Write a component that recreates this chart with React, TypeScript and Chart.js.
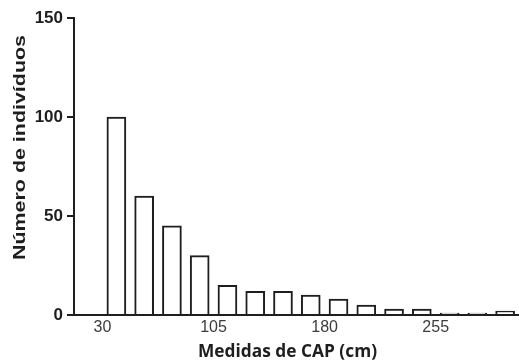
import { useEffect, useRef } from "react";
import { Chart, registerables } from "chart.js";

Chart.register(...registerables);

// Histogram of trunk circumference (CAP) classes
const binStarts = [30, 48.75, 67.5, 86.25, 105, 123.75, 142.5, 161.25, 180, 198.75, 217.5, 236.25, 255, 273.75, 292.5];
const binWidth = 18.75;
const counts = [100, 60, 45, 30, 15, 12, 12, 10, 8, 5, 3, 3, 1, 1, 2];
const xTicks = [30, 105, 180, 255];
const yTicks = [0, 50, 100, 150];
const xTitle = "Medidas de CAP (cm)";
const yTitle = "Número de indivíduos";

const INK = "#1e1e1e";

const axisTitles = {
  id: "axisTitles",
  afterDraw(chart: any) {
    const { ctx, chartArea } = chart;
    ctx.save();
    ctx.fillStyle = INK;
    ctx.textAlign = "center";
    ctx.textBaseline = "alphabetic";

    // x title
    ctx.font = "bold 17px 'Open Sans'";
    const xw = ctx.measureText(xTitle).width;
    ctx.save();
    ctx.translate(287.5, chartArea.bottom + 42);
    ctx.scale(179 / xw, 1);
    ctx.fillText(xTitle, 0, 0);
    ctx.restore();

    // y title, rotated and stretched along its length
    ctx.font = "bold 16px 'Liberation Sans'";
    const yw = ctx.measureText(yTitle).width;
    ctx.translate(24.5, 147.5);
    ctx.rotate(-Math.PI / 2);
    ctx.scale(225 / yw, 1);
    ctx.fillText(yTitle, 0, 0);
    ctx.restore();
  },
};

export default function App() {
  const canvasRef = useRef<HTMLCanvasElement | null>(null);

  useEffect(() => {
    const canvas = canvasRef.current;
    if (!canvas) return;
    const chart = new Chart(canvas, {
      type: "bar",
      data: {
        datasets: [
          {
            data: binStarts.map((s, i) => ({ x: s + binWidth / 2, y: counts[i] })),
            backgroundColor: "#ffffff",
            borderColor: INK,
            borderWidth: 2,
            barThickness: 19,
          },
        ],
      },
      options: {
        responsive: false,
        animation: false,
        events: [],
        layout: { padding: { top: 18, left: 0, right: 0, bottom: 0 } },
        plugins: { legend: { display: false }, tooltip: { enabled: false } },
        scales: {
          x: {
            type: "linear",
            offset: false,
            min: 10.75,
            max: 311.25,
            afterBuildTicks: (s: any) => {
              s.ticks = xTicks.map((v) => ({ value: v }));
            },
            afterFit: (s: any) => {
              s.height = 48;
            },
            ticks: {
              autoSkip: false,
              maxRotation: 0,
              padding: 3,
              color: "#3c3c3c",
              font: { family: "'Liberation Sans'", size: 16 },
              callback: (v: any) => String(v),
            },
            grid: { display: false, drawTicks: false },
            border: { display: true, color: INK, width: 2 },
          },
          y: {
            type: "linear",
            min: 0,
            max: 150,
            afterBuildTicks: (s: any) => {
              s.ticks = yTicks.map((v) => ({ value: v }));
            },
            afterFit: (s: any) => {
              s.width = 74;
            },
            ticks: {
              padding: 4,
              color: INK,
              font: { family: "'Liberation Sans'", size: 17, weight: "bold" },
              callback: (v: any) => String(v),
            },
            grid: {
              display: true,
              drawOnChartArea: false,
              drawTicks: true,
              tickLength: 7,
              color: INK,
              lineWidth: 2,
            },
            border: { display: true, color: INK, width: 2 },
          },
        },
      },
      plugins: [axisTitles],
    });
    return () => chart.destroy();
  }, []);

  return (
    <div style={{ position: "fixed", left: 0, top: 0, width: 519, height: 363, background: "#fff" }}>
      <canvas ref={canvasRef} width={519} height={363} />
    </div>
  );
}
